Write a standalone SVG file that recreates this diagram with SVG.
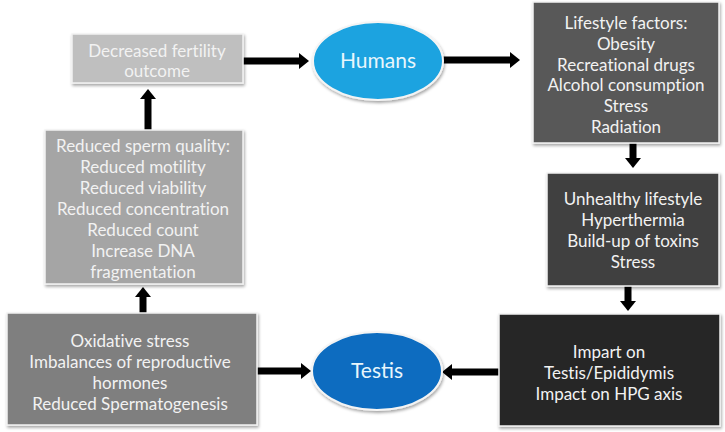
<svg xmlns="http://www.w3.org/2000/svg" width="725" height="432" viewBox="0 0 725 432">
<defs>
<filter id="sh" x="-10%" y="-10%" width="125%" height="130%">
<feDropShadow dx="1" dy="2" stdDeviation="1.5" flood-color="#000" flood-opacity="0.35"/>
</filter>
<marker id="ah" viewBox="0 -8 10 16" refX="0" refY="0" markerWidth="10" markerHeight="16" markerUnits="userSpaceOnUse" orient="auto">
<path d="M0,-8 L10,0 L0,8 z" fill="#000"/>
</marker>
</defs>
<style>
.box{stroke:#f2f2f2;stroke-width:1.5;filter:url(#sh)}
.ell{stroke:#f4f4f4;stroke-width:2;filter:url(#sh)}
.t{font-family:Lato,"Open Sans",sans-serif;font-size:17px;fill:#f2f2f2;text-anchor:middle;font-variant-ligatures:none}
.te{font-family:Lato,"Open Sans",sans-serif;font-size:21px;fill:#e8f6fc;text-anchor:middle}
.c{stroke:#000;stroke-width:7;fill:none;marker-end:url(#ah)}
</style>
<rect width="725" height="432" fill="#fff"/>
<g id="connectors">
<line class="c" x1="243" y1="61" x2="299" y2="61"/>
<line class="c" x1="443" y1="60" x2="510" y2="60"/>
<line class="c" x1="633" y1="143" x2="633" y2="158"/>
<line class="c" x1="628" y1="286" x2="628" y2="301"/>
<line class="c" x1="499" y1="372" x2="452" y2="372"/>
<line class="c" x1="257" y1="371" x2="301" y2="371"/>
<line class="c" x1="143" y1="313" x2="143" y2="297"/>
<line class="c" x1="148" y1="130" x2="148" y2="99"/>
</g>
<g id="decreased">
<rect class="box" x="72" y="34" width="171" height="49" fill="#bfbfbf"/>
<text class="t" x="157" y="57">Decreased fertility</text>
<text class="t" x="157" y="77">outcome</text>
</g>
<g id="humans">
<ellipse class="ell" cx="378" cy="61" rx="65" ry="39" fill="#1aa3e0"/>
<text class="te" x="378" y="68">Humans</text>
</g>
<g id="lifestyle">
<rect class="box" x="533" y="2" width="186" height="141" fill="#595959"/>
<text class="t" x="626" y="29">Lifestyle factors:</text>
<text class="t" x="626" y="50">Obesity</text>
<text class="t" x="626" y="71">Recreational drugs</text>
<text class="t" x="626" y="91">Alcohol consumption</text>
<text class="t" x="626" y="112">Stress</text>
<text class="t" x="626" y="133">Radiation</text>
</g>
<g id="unhealthy">
<rect class="box" x="547" y="173" width="172" height="113" fill="#404040"/>
<text class="t" x="633" y="205">Unhealthy lifestyle</text>
<text class="t" x="633" y="226">Hyperthermia</text>
<text class="t" x="633" y="247">Build-up of toxins</text>
<text class="t" x="633" y="268">Stress</text>
</g>
<g id="impart">
<rect class="box" x="499" y="314" width="221" height="112" fill="#262626"/>
<text class="t" x="609" y="358">Impart on</text>
<text class="t" x="609" y="379">Testis/Epididymis</text>
<text class="t" x="609" y="400">Impact on HPG axis</text>
</g>
<g id="testis">
<ellipse class="ell" cx="377" cy="371" rx="65" ry="39" fill="#0b6cc0"/>
<text class="te" x="377" y="378">Testis</text>
</g>
<g id="oxidative">
<rect class="box" x="7" y="313" width="250" height="112" fill="#7f7f7f"/>
<text class="t" x="130" y="347">Oxidative stress</text>
<text class="t" x="130" y="368">Imbalances of reproductive</text>
<text class="t" x="130" y="389">hormones</text>
<text class="t" x="130" y="410">Reduced Spermatogenesis</text>
</g>
<g id="sperm">
<rect class="box" x="45" y="130" width="198" height="154" fill="#a5a5a5"/>
<text class="t" x="143" y="152">Reduced sperm quality:</text>
<text class="t" x="143" y="173">Reduced motility</text>
<text class="t" x="143" y="194">Reduced viability</text>
<text class="t" x="143" y="215">Reduced concentration</text>
<text class="t" x="143" y="236">Reduced count</text>
<text class="t" x="143" y="257">Increase DNA</text>
<text class="t" x="143" y="278">fragmentation</text>
</g>
</svg>
